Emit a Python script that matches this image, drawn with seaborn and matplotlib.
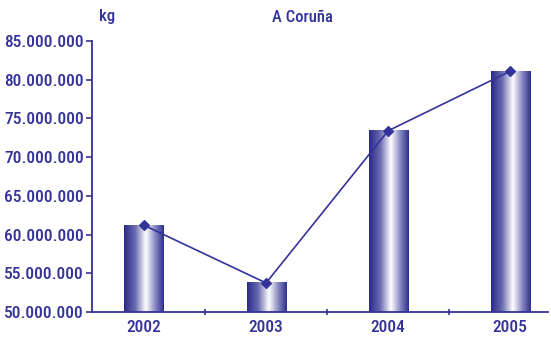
import numpy as np
import pandas as pd
import matplotlib
matplotlib.use("Agg")
import matplotlib.pyplot as plt
from matplotlib.colors import LinearSegmentedColormap
from matplotlib.ticker import FuncFormatter, FixedLocator
import seaborn as sns

# datos
anios = ["2002", "2003", "2004", "2005"]
kg = [61200000, 53750000, 73400000, 81100000]

azul = "#333399"
oscuro = "#2e2e8f"

sns.set_theme(style="white")
plt.rcParams["font.family"] = ["Roboto Condensed", "Fira Sans Condensed", "DejaVu Sans"]
plt.rcParams["font.weight"] = 500

df = pd.DataFrame({"anio": anios, "kg": kg})

fig = plt.figure(figsize=(5.51, 3.39), dpi=100)
ax = fig.add_axes([92 / 551, 1 - 312 / 339, (548 - 92) / 551, (312 - 41) / 339])

sns.barplot(data=df, x="anio", y="kg", width=0.32, color=oscuro, ax=ax)
ax.set_xlim(-0.426, 3.31)
ax.set_ylim(50000000, 85000000)

# degradado horizontal en cada barra
cmap = LinearSegmentedColormap.from_list(
    "grad", [(0, "#2a2a8a"), (0.28, "#6a6ab0"), (0.55, "#ffffff"), (0.78, "#8a8ac4"), (1, "#2e2e8e")])
grad = np.linspace(0, 1, 256).reshape(1, -1)
base = ax.get_ylim()[0]
for bar in ax.patches:
    x0, w, h = bar.get_x(), bar.get_width(), bar.get_height()
    bar.set_visible(False)
    ax.imshow(grad, cmap=cmap, aspect="auto", extent=[x0, x0 + w, base, h],
              zorder=1, interpolation="bilinear")

sns.pointplot(data=df, x="anio", y="kg", color=azul, markers="D", markersize=5,
              linewidth=1.2, errorbar=None, ax=ax)
for coll in ax.collections:
    coll.set_zorder(5)
for ln in ax.lines:
    ln.set_zorder(4)

ax.set_xlim(-0.426, 3.31)
ax.set_ylim(50000000, 85000000)
ax.set_yticks(np.arange(50000000, 85000001, 5000000))
ax.yaxis.set_major_formatter(FuncFormatter(lambda v, p: f"{int(v):,}".replace(",", ".")))
ax.set_xlabel("")
ax.set_ylabel("")

ax.xaxis.set_minor_locator(FixedLocator([0.5, 1.5, 2.5]))
ax.tick_params(axis="x", which="major", length=0, pad=6, labelsize=12.5, labelcolor=azul)
ax.tick_params(axis="x", which="minor", length=4, width=1.2, color=azul, direction="inout", bottom=True)
ax.tick_params(axis="y", length=4, width=1.2, color=azul, left=True, pad=2,
               labelsize=12.5, labelcolor=azul)

sns.despine(ax=ax)
for s in ["left", "bottom"]:
    ax.spines[s].set_color(azul)
    ax.spines[s].set_linewidth(1.3)

fig.text(107 / 551, 1 - 17 / 339, "kg", color=azul, fontsize=12, ha="center", va="center")
fig.text(302 / 551, 1 - 17 / 339, "A Coruña", color=azul, fontsize=12, ha="center", va="center")

fig.savefig("out.png", dpi=100)
